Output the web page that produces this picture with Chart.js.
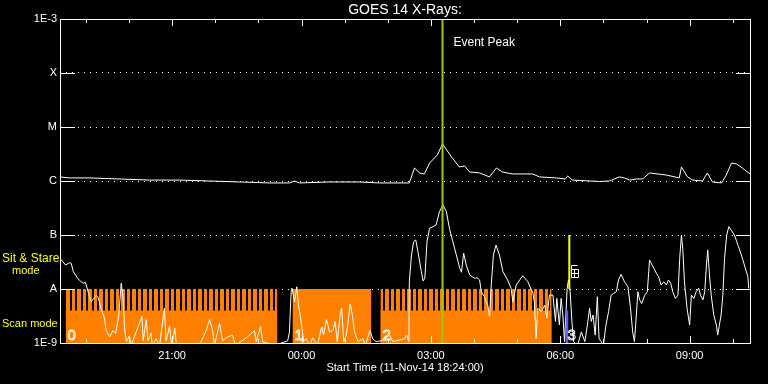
<!DOCTYPE html>
<html>
<head>
<meta charset="utf-8">
<script src="https://cdn.jsdelivr.net/npm/chart.js@4"></script>
<style>
  html, body { margin: 0; padding: 0; background: #000; }
</style>
</head>
<body>
<canvas id="goesChart" width="768" height="384"></canvas>
<script>
// time axis in hours from 00:00 on 12-Nov-14 (negative = 11-Nov)
const timeMin = -5.6;   // 18:24
const timeMax = 10.4;   // 10:24

// long channel (1-8 A)
const longTimes = [-5.60, -5.38, -4.92, -4.22, -3.52, -2.83, -2.13, -1.44, -0.74, -0.28,
  -0.16, -0.05, 0.65, 1.34, 1.81, 2.50, 2.62, 2.74, 2.85, 2.97,
  3.15, 3.27, 3.48, 3.66, 3.78, 3.90, 4.13, 4.36, 4.52, 4.66,
  4.89, 5.36, 5.52, 5.91, 6.12, 6.17, 6.28, 6.91, 7.14, 7.37,
  7.49, 7.61, 7.77, 7.91, 8.07, 8.46, 8.76, 8.81, 8.95, 9.07,
  9.30, 9.41, 9.53, 9.74, 9.85, 9.97, 10.09, 10.22, 10.40];
const longFlux = [1.19e-6, 1.14e-6, 1.14e-6, 1.09e-6, 1.04e-6, 1.04e-6, 1.0e-6, 0.96e-6, 0.92e-6, 0.92e-6,
  1.0e-6, 0.92e-6, 0.96e-6, 0.96e-6, 0.92e-6, 0.92e-6, 1.74e-6, 1.41e-6, 1.35e-6, 2.15e-6,
  3.03e-6, 4.84e-6, 2.78e-6, 1.82e-6, 1.90e-6, 1.47e-6, 1.41e-6, 1.19e-6, 1.74e-6, 1.47e-6,
  1.35e-6, 1.35e-6, 1.19e-6, 1.14e-6, 1.09e-6, 1.24e-6, 1.04e-6, 0.98e-6, 1.0e-6, 1.19e-6,
  1.14e-6, 1.04e-6, 1.09e-6, 1.09e-6, 1.41e-6, 1.29e-6, 1.14e-6, 1.82e-6, 1.19e-6, 1.04e-6,
  1.0e-6, 1.41e-6, 0.96e-6, 0.92e-6, 1.29e-6, 2.15e-6, 2.07e-6, 1.74e-6, 1.35e-6];

// short channel (0.5-4 A)
const shortTimes = [-5.58, -5.47, -5.38, -5.34, -5.29, -5.19, -5.11, -5.06, -5.01, -4.96,
  -4.88, -4.84, -4.76, -4.72, -4.64, -4.57, -4.53, -4.45, -4.37, -4.31,
  -4.24, -4.18, -4.14, -4.10, -4.06, -3.99, -3.95, -3.70, -3.67, -3.60,
  -3.56, -3.49, -3.46, -3.37, -3.29, -3.18, -3.14, -3.06, -3.01, -2.94,
  -2.90, -2.37, -2.21, -2.13, -2.06, -2.02, -1.90, -1.83, -1.71, -1.60,
  -1.53, -1.25, -1.09, -1.05, -0.95, -0.90, -0.63, -0.32, -0.28, -0.24,
  -0.22, -0.16, -0.11, -0.07, -0.03, 0.01, 0.05, 0.11, 0.19, 0.26,
  0.37, 0.47, 0.51, 0.58, 0.65, 0.73, 0.78, 0.83, 0.90, 0.93,
  0.98, 1.04, 1.13, 1.18, 1.23, 1.31, 1.43, 1.48, 1.59, 1.65,
  1.73, 1.85, 2.04, 2.12, 2.39, 2.44, 2.49, 2.50, 2.55, 2.60,
  2.65, 2.70, 2.78, 2.82, 2.86, 2.91, 2.97, 3.05, 3.12, 3.20,
  3.28, 3.36, 3.43, 3.51, 3.59, 3.67, 3.71, 3.76, 3.82, 3.90,
  4.01, 4.07, 4.13, 4.17, 4.24, 4.28, 4.32, 4.36, 4.40, 4.45,
  4.51, 4.59, 4.67, 4.78, 4.86, 4.90, 4.98, 5.13, 5.25, 5.33,
  5.36, 5.40, 5.44, 5.48, 5.56, 5.64, 5.69, 5.75, 5.83, 5.89,
  5.92, 5.98, 6.02, 6.06, 6.10, 6.16, 6.19, 6.23, 6.27, 6.31,
  6.40, 6.49, 6.57, 6.63, 6.68, 6.72, 6.76, 6.81, 6.86, 6.90,
  6.95, 7.00, 7.06, 7.12, 7.18, 7.24, 7.30, 7.35, 7.41, 7.49,
  7.57, 7.63, 7.68, 7.72, 7.76, 7.80, 7.84, 7.89, 7.96, 8.02,
  8.07, 8.13, 8.17, 8.23, 8.28, 8.34, 8.40, 8.46, 8.51, 8.56,
  8.61, 8.67, 8.73, 8.77, 8.81, 8.84, 8.88, 8.94, 9.00, 9.04,
  9.10, 9.15, 9.21, 9.25, 9.31, 9.35, 9.39, 9.42, 9.46, 9.50,
  9.56, 9.62, 9.65, 9.69, 9.73, 9.77, 9.81, 9.86, 9.91, 9.96,
  10.04, 10.12, 10.20, 10.27, 10.35, 10.37];
const shortFlux = [3.55e-8, 2.78e-8, 3.07e-8, 2.99e-8, 2.09e-8, 1.58e-8, 1.36e-8, 1.28e-8, 1.33e-8, 9.6e-9,
  5.8e-9, 6.3e-9, 7.7e-9, 7.2e-9, 4.1e-9, 2.9e-9, 1.7e-9, 1.3e-9, 1.7e-9, 1.5e-9,
  3.1e-9, 1.28e-8, 7.2e-9, 1.7e-9, 1.06e-9, 1.35e-9, 9e-10, 3.1e-9, 1.1e-9, 2.7e-9,
  1.1e-9, 1.5e-9, 9e-10, 1.2e-9, 9e-10, 4.4e-9, 1.1e-9, 2.0e-9, 9e-10, 1.9e-9,
  9e-10, 9e-10, 1.7e-9, 2.7e-9, 1.7e-9, 9e-10, 2.3e-9, 1.1e-9, 1.3e-9, 1.4e-9,
  9e-10, 1.3e-9, 1.7e-9, 1.06e-9, 2.0e-9, 1.06e-9, 9e-10, 1.1e-9, 1.6e-9, 8.9e-9,
  1.03e-8, 5.8e-9, 1.1e-8, 5.0e-9, 3.3e-9, 1.9e-9, 1.06e-9, 1.2e-9, 9e-10, 1.25e-9,
  9e-10, 2.0e-9, 1.4e-9, 2.7e-9, 1.6e-9, 1.7e-9, 2.5e-9, 1.06e-9, 3.5e-9, 4.4e-9,
  1.06e-9, 1.4e-9, 5.2e-9, 3.3e-9, 1.6e-9, 1.06e-9, 1.2e-9, 9e-10, 1.7e-9, 1.2e-9,
  1.06e-9, 1.1e-9, 1.4e-9, 1.06e-9, 1.2e-9, 1.4e-9, 1.06e-9, 1.36e-8, 4.27e-8, 7.5e-8,
  8.1e-8, 4.9e-8, 2.1e-8, 1.41e-8, 1.58e-8, 7.5e-8, 1.33e-7, 1.43e-7, 1.53e-7, 2.7e-7,
  3.6e-7, 2.7e-7, 1.33e-7, 7.5e-8, 4.27e-8, 2.42e-8, 2.04e-8, 4.6e-8, 2.78e-8, 1.82e-8,
  1.58e-8, 1.62e-8, 1.47e-8, 8.9e-9, 7.2e-9, 5.8e-9, 5.0e-9, 3.1e-9, 1.19e-8, 4.27e-8,
  6.5e-8, 4.27e-8, 2.09e-8, 1.47e-8, 1.03e-8, 5.8e-9, 1.19e-8, 1.76e-8, 1.36e-8, 9.6e-9,
  8.9e-9, 5.8e-9, 1.2e-9, 4.4e-9, 3.8e-9, 5.0e-9, 2.9e-9, 7.7e-9, 7.7e-9, 2.5e-9,
  6.7e-9, 2.15e-9, 6.7e-9, 3.3e-9, 1.06e-9, 1.03e-8, 1.47e-8, 8.9e-9, 2.5e-9, 1.06e-9,
  9e-10, 1.6e-9, 1.06e-9, 2.15e-9, 4.4e-9, 2.5e-9, 3.3e-9, 1.4e-9, 7.2e-9, 1.2e-9,
  1.06e-9, 9e-10, 2.15e-9, 3.8e-9, 7.7e-9, 8.3e-9, 8.9e-9, 1.47e-8, 1.87e-8, 1.36e-8,
  1.1e-8, 4.4e-9, 1.6e-9, 1.06e-9, 2.9e-9, 8.9e-9, 6.3e-9, 5.4e-9, 7.7e-9, 8.9e-9,
  3.44e-8, 2.78e-8, 2.42e-8, 1.95e-8, 1.69e-8, 1.19e-8, 1.36e-8, 1.19e-8, 1.47e-8, 1.28e-8,
  8.9e-9, 6.7e-9, 7.7e-9, 3.7e-8, 1.0e-7, 5.7e-8, 1.36e-8, 4.4e-9, 2.15e-9, 7.7e-9,
  6.7e-9, 8.9e-9, 1.03e-8, 7.7e-9, 6.3e-9, 8.9e-9, 2.78e-8, 5.3e-8, 1.82e-8, 7.7e-9,
  3.3e-9, 2.15e-9, 1.4e-9, 2.15e-9, 3.3e-9, 7.7e-9, 3.7e-8, 1.0e-7, 1.43e-7, 1.24e-7,
  1.0e-7, 6.5e-8, 4.27e-8, 2.78e-8, 1.69e-8, 1.03e-8];

// observing mode blocks
const scanStart = [-5.47, -0.21, 1.83];
const scanEnd = [-0.56, 1.62, 5.80];
const scanStriped = [true, false, true];
const scanLabels = ["0", "1", "2"];
const stareStart = [6.12];
const stareEnd = [6.19];
const stareLabels = ["3"];
const scanTop = 1e-8;
const scanMid = 4e-9;

// events
const peakTime = 3.27;
const flareTime = 6.21;
const flareLow = 1e-8;
const flareHigh = 1e-7;

// axes
const decadeValues = [1e-9, 1e-8, 1e-7, 1e-6, 1e-5, 1e-4, 1e-3];
const decadeLabels = ["1E-9", "A", "B", "C", "M", "X", "1E-3"];
const hourTicks = [-3, 0, 3, 6, 9];
const hourLabels = ["21:00", "00:00", "03:00", "06:00", "09:00"];

const orange = "#ff8000";
const font = "Liberation Sans";

// striped fill for the scan blocks
const pc = document.createElement("canvas");
pc.width = 11; pc.height = 1;
const pctx = pc.getContext("2d");
pctx.fillStyle = orange; pctx.fillRect(0, 0, 11, 1);
pctx.fillStyle = "#000"; pctx.fillRect(4, 0, 2, 1); pctx.fillRect(9, 0, 2, 1);
const stripes = pctx.createPattern(pc, "repeat");

function pts(xs, ys) {
  return xs.map((x, i) => ({ x: x, y: ys[i] }));
}

function block(x0, x1, y, color, order) {
  return {
    data: [{ x: x0, y: y }, { x: x1, y: y }],
    fill: "start", backgroundColor: color,
    borderColor: "rgba(0,0,0,0)", borderWidth: 1,
    pointRadius: 0, order: order
  };
}

const datasets = [];
scanStart.forEach((s, i) => {
  if (scanStriped[i]) {
    datasets.push(block(s, scanEnd[i], scanTop, stripes, 11));
    datasets.push(block(s, scanEnd[i], scanMid, orange, 10));
  } else {
    datasets.push(block(s, scanEnd[i], scanTop, orange, 10));
  }
});
stareStart.forEach((s, i) => {
  datasets.push(block(s, stareEnd[i], scanMid, "#6060ff", 4));
});

datasets.push({
  data: pts(longTimes, longFlux), borderColor: "#fff", borderWidth: 1,
  pointRadius: 0, fill: false, order: 5
});
datasets.push({
  data: pts(shortTimes, shortFlux), borderColor: "#fff", borderWidth: 1,
  pointRadius: 0, fill: false, order: 5
});
datasets.push({
  data: [{ x: peakTime, y: 1e-9 }, { x: peakTime, y: 1e-3 }],
  borderColor: "#99cc00", borderWidth: 2, pointRadius: 0, fill: false, order: 1
});
datasets.push({
  data: [{ x: flareTime, y: flareLow }, { x: flareTime, y: flareHigh }],
  borderColor: "#ffff00", borderWidth: 2, pointRadius: 0, fill: false, order: 1
});

// frame, inward ticks, labels
const decor = {
  id: "decor",
  beforeDraw(chart) {
    const c = chart.ctx;
    c.save();
    c.fillStyle = "#000";
    c.fillRect(0, 0, chart.width, chart.height);
    c.restore();
  },
  afterDraw(chart) {
    const c = chart.ctx;
    const a = chart.chartArea;
    const xs = chart.scales.x, ys = chart.scales.y;
    c.save();
    c.strokeStyle = "#fff";
    c.lineWidth = 1;
    c.strokeRect(a.left + 0.5, a.top + 0.5, a.right - a.left, a.bottom - a.top);

    c.beginPath();
    for (let h = Math.ceil(timeMin); h <= timeMax; h++) {
      const px = Math.round(xs.getPixelForValue(h)) + 0.5;
      const len = h % 3 === 0 ? 7 : 4;
      c.moveTo(px, a.top); c.lineTo(px, a.top + len);
      c.moveTo(px, a.bottom); c.lineTo(px, a.bottom - len);
    }
    decadeValues.slice(1, -1).forEach(v => {
      const py = Math.round(ys.getPixelForValue(v)) + 0.5;
      c.moveTo(a.left, py); c.lineTo(a.left + 15, py);
      c.moveTo(a.right - 14, py); c.lineTo(a.right + 1, py);
    });
    c.stroke();

    c.fillStyle = "#fff";
    c.textBaseline = "middle";
    c.textAlign = "center";
    c.font = "14px " + font;
    c.fillText("GOES 14 X-Rays:", (a.left + a.right) / 2, 10);

    c.textAlign = "left";
    c.font = "12px " + font;
    c.fillText("Event Peak", xs.getPixelForValue(peakTime) + 11, 43);

    // block numbers
    c.font = "15px " + font;
    c.textBaseline = "alphabetic";
    c.lineWidth = 0.9;
    scanStart.forEach((s, i) => c.strokeText(scanLabels[i], xs.getPixelForValue(s) + 2, a.bottom - 3));
    stareStart.forEach((s, i) => c.strokeText(stareLabels[i], xs.getPixelForValue(s) + 2, a.bottom - 3));

    // flare marker
    const fx = Math.round(xs.getPixelForValue(flareTime + 0.1)) + 0.5;
    const fy = Math.round(ys.getPixelForValue(2e-8)) + 0.5;
    c.lineWidth = 1;
    c.beginPath();
    c.moveTo(fx - 3, fy - 8); c.lineTo(fx + 3, fy - 8);
    c.moveTo(fx - 3, fy - 8); c.lineTo(fx - 3, fy - 4);
    c.rect(fx - 3, fy - 4, 7, 8);
    c.moveTo(fx - 3, fy); c.lineTo(fx + 4, fy);
    c.moveTo(fx, fy - 4); c.lineTo(fx, fy + 4);
    c.stroke();

    // mode labels
    c.fillStyle = "#ffff00";
    c.textBaseline = "middle";
    c.font = "12px " + font;
    c.fillText("Sit & Stare", 2, 259);
    c.font = "11px " + font;
    c.fillText("mode", 12, 271);
    c.fillText("Scan mode", 2, 324);
    c.restore();
  }
};

new Chart(document.getElementById("goesChart"), {
  type: "line",
  data: { datasets: datasets },
  plugins: [decor],
  options: {
    responsive: false,
    animation: false,
    devicePixelRatio: 1,
    layout: { padding: { left: 0, right: 18, top: 19, bottom: 0 } },
    plugins: { legend: { display: false }, tooltip: { enabled: false } },
    elements: { line: { tension: 0 } },
    scales: {
      x: {
        type: "linear", min: timeMin, max: timeMax,
        afterBuildTicks: s => { s.ticks = hourTicks.map(v => ({ value: v })); },
        afterFit: s => { s.height = 41; },
        ticks: {
          color: "#fff", font: { family: font, size: 11 }, padding: 6,
          maxRotation: 0, autoSkip: false,
          callback: v => hourLabels[hourTicks.indexOf(v)]
        },
        grid: { display: false, drawTicks: false },
        border: { display: false },
        title: {
          display: true, text: "Start Time (11-Nov-14 18:24:00)", color: "#fff",
          font: { family: font, size: 11 }, padding: { top: 0, bottom: 9 }
        }
      },
      y: {
        type: "logarithmic", min: 1e-9, max: 1e-3,
        afterBuildTicks: s => { s.ticks = decadeValues.map(v => ({ value: v })); },
        afterFit: s => { s.width = 60; },
        ticks: {
          color: "#fff", font: { family: font, size: 11 }, padding: 3,
          callback: v => {
            const i = decadeValues.findIndex(d => Math.abs(Math.log10(d) - Math.log10(v)) < 1e-6);
            return i >= 0 ? decadeLabels[i] : "";
          }
        },
        grid: { color: "#fff", lineWidth: 1, drawTicks: false },
        border: { display: false, dash: [1, 5] }
      }
    }
  }
});
</script>
</body>
</html>
